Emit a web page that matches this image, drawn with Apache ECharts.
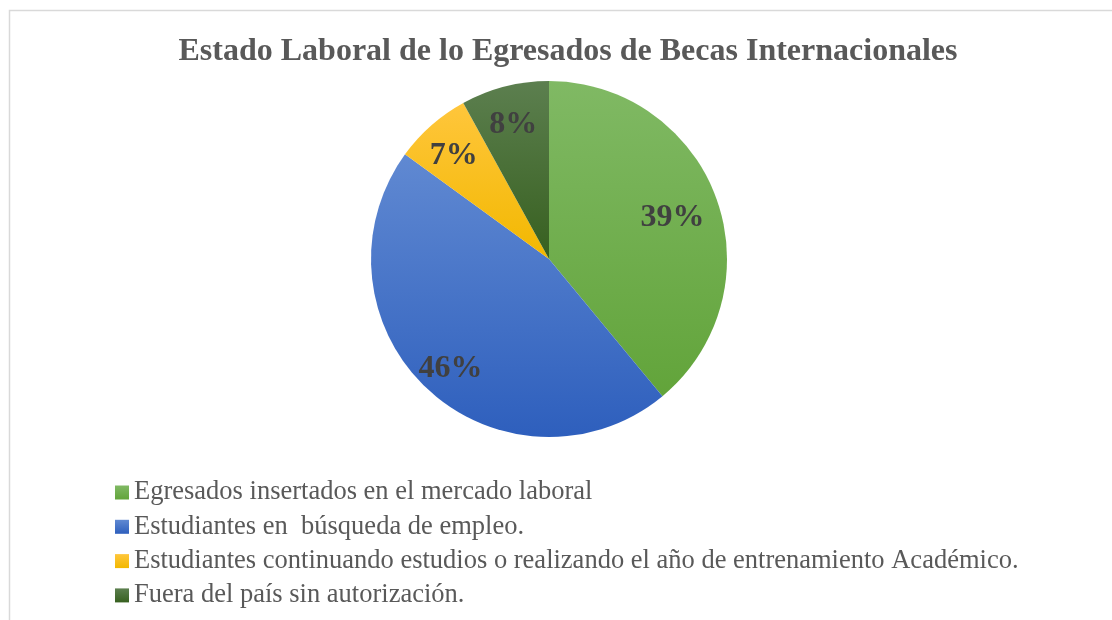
<!DOCTYPE html>
<html>
<head>
<meta charset="utf-8">
<script src="https://cdn.jsdelivr.net/npm/echarts@6/dist/echarts.min.js"></script>
<style>
html,body{margin:0;padding:0;background:#fff;}
#chart{width:1112px;height:620px;}
</style>
</head>
<body>
<div id="chart"></div>
<script>
//分类名称
var categories = [
    'Egresados insertados en el mercado laboral',
    'Estudiantes en  búsqueda de empleo.',
    'Estudiantes continuando estudios o realizando el año de entrenamiento Académico.',
    'Fuera del país sin autorización.'
];
//百分比数据
var values = [39, 46, 7, 8];
//颜色 (上, 下)
var colorsTop = ['#80b964', '#6089d2', '#ffc63c', '#5c7f4f'];
var colorsBottom = ['#62a43a', '#2e5fbd', '#f2b800', '#37601f'];

var titleText = 'Estado Laboral de lo Egresados de Becas Internacionales';

function grad(i) {
    return new echarts.graphic.LinearGradient(0, 0, 0, 1, [
        {offset: 0, color: colorsTop[i]},
        {offset: 1, color: colorsBottom[i]}
    ]);
}

var pieData = [];
var labelData = [];
for (var i = 0; i < categories.length; i++) {
    pieData.push({name: categories[i], value: values[i], itemStyle: {color: grad(i)}});
    labelData.push({name: categories[i], value: values[i]});
}
//第一个标签稍微往里
labelData[0].label = {offset: [-12, 8]};

var myChart = echarts.init(document.getElementById('chart'));

var option = {
    animation: false,
    backgroundColor: '#fff',
    graphic: [{
        type: 'rect',
        shape: {x: 9.5, y: 10.5, width: 1200, height: 700},
        style: {fill: 'none', stroke: '#d9d9d9', lineWidth: 1.5},
        silent: true
    }],
    title: {
        text: titleText,
        left: 563,
        textAlign: 'center',
        top: 31,
        textStyle: {
            fontFamily: 'Liberation Serif',
            fontWeight: 'bold',
            fontSize: 32,
            color: '#595959'
        }
    },
    legend: {
        orient: 'vertical',
        left: 110,
        top: 474,
        itemGap: 7.3,
        itemWidth: 14,
        itemHeight: 14,
        icon: 'rect',
        data: categories,
        textStyle: {
            fontFamily: 'Liberation Serif',
            fontSize: 26.5,
            color: '#595959',
            padding: [0, 0, 0, 0]
        }
    },
    series: [
        {
            name: 'estado',
            type: 'pie',
            center: [549, 259],
            radius: [0, 178],
            startAngle: 90,
            clockwise: true,
            label: {show: false},
            labelLine: {show: false},
            itemStyle: {borderWidth: 0},
            emphasis: {disabled: true},
            data: pieData
        },
        {
            name: 'etiquetas',
            type: 'pie',
            center: [549, 259],
            radius: [104, 178],
            startAngle: 90,
            clockwise: true,
            silent: true,
            legendHoverLink: false,
            itemStyle: {color: 'rgba(0,0,0,0)'},
            label: {
                show: true,
                position: 'inside',
                formatter: '{c}%',
                fontFamily: 'Liberation Serif',
                fontWeight: 'bold',
                fontSize: 32,
                color: '#404040',
                offset: [0, 5]
            },
            labelLine: {show: false},
            emphasis: {disabled: true},
            data: labelData
        }
    ]
};

myChart.setOption(option);
</script>
</body>
</html>
